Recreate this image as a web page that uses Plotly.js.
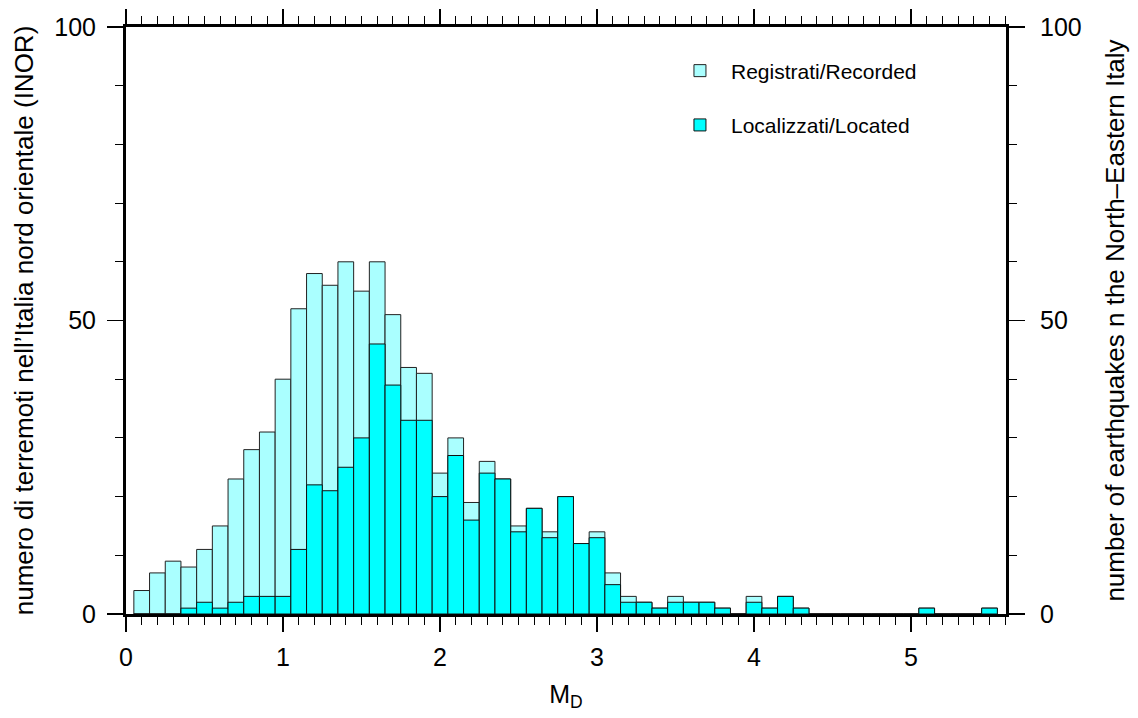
<!DOCTYPE html>
<html>
<head>
<meta charset="utf-8">
<script src="https://cdn.plot.ly/plotly-3.0.1.min.js"></script>
<style>html,body{margin:0;padding:0;background:#fff;}#chart{width:1138px;height:718px;}</style>
</head>
<body>
<div id="chart"></div>
<script>
// Magnitude bin centres (M_D), bin width 0.1
const magnitude = [0.1,0.2,0.3,0.4,0.5,0.6,0.7,0.8,0.9,1.0,
  1.1,1.2,1.3,1.4,1.5,1.6,1.7,1.8,1.9,2.0,
  2.1,2.2,2.3,2.4,2.5,2.6,2.7,2.8,2.9,3.0,
  3.1,3.2,3.3,3.4,3.5,3.6,3.7,3.8,3.9,4.0,
  4.1,4.2,4.3,4.4,4.5,4.6,4.7,4.8,4.9,5.0,
  5.1,5.2,5.3,5.4,5.5];
// Registrati / Recorded
const recorded = [4,7,9,8,11,15,23,28,31,40,
  52,58,56,60,55,60,51,42,41,24,
  30,19,26,23,15,18,14,20,12,14,
  7,3,2,1,3,2,2,1,0,3,
  1,3,1,0,0,0,0,0,0,0,
  1,0,0,0,1];
// Localizzati / Located
const located = [0,0,0,1,2,1,2,3,3,3,
  11,22,21,25,30,46,39,33,33,20,
  27,16,24,23,14,18,13,20,12,13,
  5,2,2,1,2,2,2,1,0,2,
  1,3,1,0,0,0,0,0,0,0,
  1,0,0,0,1];
const seriesNames = ['Registrati/Recorded', 'Localizzati/Located'];
const yTitleLeft = 'numero di terremoti nell\u2019Italia nord orientale (INOR)';
const yTitleRight = 'number of earthquakes n the North\u2013Eastern Italy';
const xTitle = 'M<sub>D</sub>';

const FONT = 'Liberation Sans, Arial, Helvetica, sans-serif';
const binWidth = magnitude.map(() => 0.1);

const traces = [
  {type:'bar', x:magnitude, y:recorded, width:binWidth, name:seriesNames[0], legendgroup:'a',
   marker:{color:'#aaffff', line:{color:'#222', width:1}}},
  {type:'bar', x:magnitude, y:located, width:binWidth, name:seriesNames[1], legendgroup:'b',
   marker:{color:'#00ffff', line:{color:'#111', width:1}}},
  {type:'scatter', x:[0], y:[0], yaxis:'y2', mode:'markers', marker:{opacity:0}, showlegend:false, hoverinfo:'skip'}
];

const axisCommon = {
  showgrid:false, zeroline:false, showline:true, linecolor:'#000', linewidth:3,
  ticks:'outside', tickcolor:'#000', tickwidth:1.2, tickfont:{family:FONT, size:25, color:'#000'}
};

const layout = {
  width:1138, height:718,
  margin:{l:126, r:132, t:27, b:104},
  paper_bgcolor:'#fff', plot_bgcolor:'#fff',
  barmode:'overlay', bargap:0,
  font:{family:FONT, color:'#000'},
  xaxis: Object.assign({}, axisCommon, {
    range:[0, 5.605], dtick:1, tick0:0, ticklen:15, mirror:'ticks', ticklabelstandoff:4,
    minor:{dtick:0.1, tick0:0, ticks:'outside', ticklen:8, tickcolor:'#000', tickwidth:1},
    title:{text:xTitle, font:{family:FONT, size:25, color:'#000'}, standoff:16}
  }),
  yaxis: Object.assign({}, axisCommon, {
    range:[0, 100], dtick:50, tick0:0, ticklen:16, mirror:'ticks', ticklabelstandoff:6,
    minor:{dtick:10, tick0:0, ticks:'outside', ticklen:8, tickcolor:'#000', tickwidth:1},
    title:{text:yTitleLeft, font:{family:FONT, size:26, color:'#000'}, standoff:14}
  }),
  yaxis2: Object.assign({}, axisCommon, {
    overlaying:'y', side:'right', range:[0, 100], dtick:50, tick0:0, ticklen:16, ticklabelstandoff:10,
    minor:{dtick:10, tick0:0, ticks:'outside', ticklen:8, tickcolor:'#000', tickwidth:1},
    title:{text:yTitleRight, font:{family:FONT, size:26, color:'#000'}, standoff:26}
  }),
  showlegend:true,
  legend:{x:0.617, y:0.96, xanchor:'left', yanchor:'top', bgcolor:'rgba(0,0,0,0)',
    font:{family:FONT, size:21, color:'#000'}, traceorder:'grouped', tracegroupgap:24, itemwidth:52}
};

Plotly.newPlot('chart', traces, layout, {displayModeBar:false, staticPlot:true});
</script>
</body>
</html>
